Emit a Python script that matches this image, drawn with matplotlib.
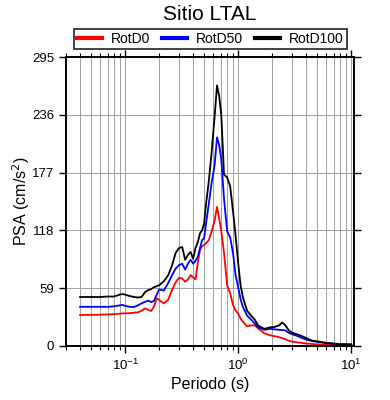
import matplotlib
matplotlib.use('Agg')
import matplotlib.pyplot as plt
import numpy as np
from matplotlib.ticker import LogLocator, FixedLocator, NullFormatter

plt.rcParams['font.family'] = ['Liberation Sans', 'DejaVu Sans']

periodo = [0.04, 0.05, 0.06, 0.07, 0.08, 0.09, 0.095, 0.10, 0.11, 0.12, 0.13, 0.14, 0.15,
           0.16, 0.17, 0.18, 0.19, 0.20, 0.22, 0.24, 0.26, 0.28, 0.30, 0.32, 0.34, 0.36,
           0.38, 0.40, 0.42, 0.44, 0.46, 0.48, 0.50, 0.52, 0.55, 0.58, 0.62, 0.65, 0.68,
           0.71, 0.75, 0.80, 0.85, 0.90, 0.95, 1.0, 1.05, 1.1, 1.2, 1.3, 1.4, 1.5, 1.7,
           1.9, 2.1, 2.3, 2.45, 2.6, 2.8, 3.0, 3.3, 3.6, 4.0, 4.5, 5.0, 6.0, 7.0, 8.0,
           9.0, 10.0]

rotd100 = [50, 50, 50, 50.5, 50.5, 52.5, 53, 52.5, 51, 50, 49.5, 50, 55,
           57, 58, 60, 61, 62, 66, 72, 82, 95, 100, 101, 88, 93,
           96, 89, 100, 106, 115, 118, 125, 145, 168, 195, 235, 266, 255,
           235, 175, 172, 163, 138, 112, 85, 62, 50, 36, 31, 27, 21, 17.5,
           19, 19.5, 21, 24, 21.5, 16, 13.5, 12, 10.5, 8, 5.5, 4.8, 3.2, 2.5, 2.0,
           1.8, 1.6]

rotd50 = [40, 40, 40, 40, 40.5, 41.5, 42, 41, 40, 39.8, 41.5, 43.5, 45,
          46.3, 44.8, 46, 52, 57.8, 56.5, 64, 72, 79, 82.6, 84, 78, 84,
          88, 84, 87, 91, 100, 108, 110, 125, 145, 165, 185, 213, 205,
          190, 150, 117, 111, 95, 72, 60, 48, 40, 31, 27, 23, 19, 16.5,
          17.5, 17, 16.5, 16.3, 16, 13.5, 12, 10.5, 8.5, 6.5, 5, 4.2, 3, 2.3, 1.9,
          1.7, 1.5]

rotd0 = [31.6, 31.8, 32, 32.3, 32.5, 33, 33.3, 33.3, 33.5, 34, 34.3, 36, 38.4,
         37, 35.7, 40, 48.6, 47, 43.5, 47, 57, 65, 69.7, 69, 65.6, 68,
         72.4, 70, 68, 85, 98, 102, 103, 105, 108, 116, 128, 142, 130,
         117, 95, 62, 54, 42, 36, 33, 28, 25, 20, 21, 21, 18, 13,
         11, 10, 9, 8, 7, 5.5, 4.5, 3.8, 3.3, 2.5, 2, 1.6, 1.3, 1.1, 1.0,
         1.0, 1.0]

yticks = [0, 59, 118, 177, 236, 295]

fig = plt.figure(figsize=(3.9, 4.0), dpi=100)
ax = fig.add_axes([0.169, 0.135, 0.739, 0.7225])

ax.plot(periodo, rotd0, color='red', lw=1.3, label='RotD0')
ax.plot(periodo, rotd50, color='blue', lw=1.3, label='RotD50')
ax.plot(periodo, rotd100, color='black', lw=1.3, label='RotD100')

ax.set_xscale('log')
ax.set_xlim(0.03, 10.6)
ax.set_ylim(0, 295)
ax.xaxis.set_major_locator(FixedLocator([0.1, 1, 10]))
ax.xaxis.set_minor_locator(LogLocator(base=10, subs=np.arange(2, 10), numticks=20))
ax.xaxis.set_minor_formatter(NullFormatter())
ax.set_yticks(yticks)
ax.set_yticklabels([str(v) for v in yticks])

ax.grid(True, which='both', axis='x', color='#a0a0a0', lw=0.7)
ax.grid(True, which='major', axis='y', color='#a0a0a0', lw=0.7)
ax.set_axisbelow(True)

ax.tick_params(which='major', direction='out', length=5, width=1, labelsize=9.5,
               top=True, right=True)
ax.tick_params(which='minor', direction='out', length=3, width=0.8, top=True, right=True)
for s in ax.spines.values():
    s.set_linewidth(1.4)

ax.set_xlabel('Periodo (s)', fontsize=11.5, labelpad=3)
ax.set_ylabel('PSA (cm/s$^2$)', fontsize=11.5, labelpad=0)

fig.text(0.538, 0.965, 'Sitio LTAL', fontsize=15, ha='center', va='center')
leg = fig.legend(loc='center', bbox_to_anchor=(0.539, 0.9025), ncol=3, fontsize=10,
                 frameon=True, fancybox=False, edgecolor='black', handlelength=1.8,
                 columnspacing=0.9, borderpad=0.25, handletextpad=0.6,
                 borderaxespad=0)
leg.get_frame().set_linewidth(1.3)
for l in leg.get_lines():
    l.set_linewidth(3)

fig.savefig('out.png', dpi=100)
